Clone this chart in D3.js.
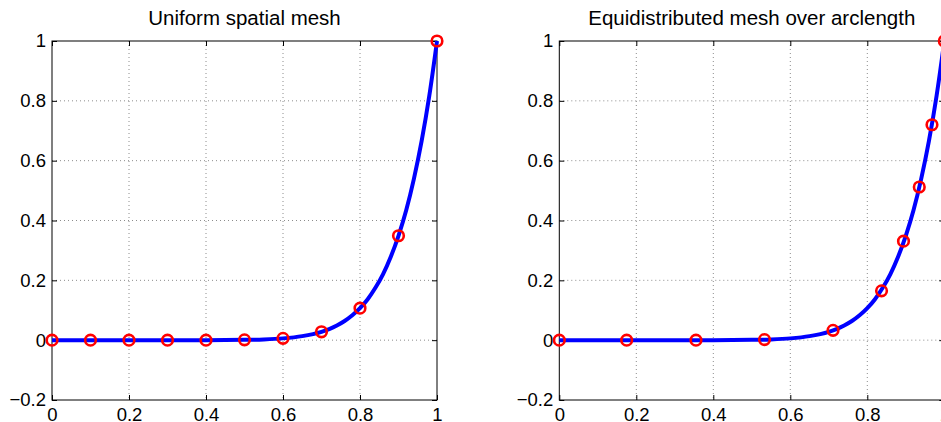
<!DOCTYPE html>
<html>
<head>
<meta charset="utf-8">
<script src="https://cdn.jsdelivr.net/npm/d3@7"></script>
<style>
  body { margin: 0; background: #fff; }
  svg { display: block; font-family: "Liberation Sans", Arial, sans-serif; }
</style>
</head>
<body>
<div id="svg"></div>
<script>
// data

// smooth solution curve (same in both panels)
const curveX = [0, 0.1, 0.2, 0.3, 0.4, 0.5, 0.55, 0.6, 0.65, 0.7, 0.72, 0.74, 0.76, 0.78, 0.8, 0.82, 0.84, 0.86, 0.88, 0.9, 0.92, 0.94, 0.96, 0.98, 1];
const curveY = [0, 0, 0, 0, 0.0001, 0.001, 0.0025, 0.006, 0.0135, 0.028, 0.037, 0.049, 0.064, 0.083, 0.107, 0.137, 0.175, 0.221, 0.279, 0.349, 0.434, 0.539, 0.665, 0.817, 1];

// uniform mesh points
const uniformX = [0, 0.1, 0.2, 0.3, 0.4, 0.5, 0.6, 0.7, 0.8, 0.9, 1];
const uniformY = [0, 0, 0, 0, 0.0001, 0.001, 0.006, 0.028, 0.107, 0.349, 1];

// equidistributed mesh points
const equiX = [0, 0.175, 0.355, 0.533, 0.711, 0.837, 0.894, 0.935, 0.968, 1];
const equiY = [0, 0, 0, 0.002, 0.033, 0.165, 0.331, 0.512, 0.72, 1];

const titles = ["Uniform spatial mesh", "Equidistributed mesh over arclength"];
const xTicks = [0, 0.2, 0.4, 0.6, 0.8, 1];
const yTicks = [-0.2, 0, 0.2, 0.4, 0.6, 0.8, 1];

// sizes
const width = 941;
const height = 422;
const panelW = 385;
const plotTop = 41;
const plotBottom = 400;
const lefts = [52, 559.3];

const svg = d3.select("#svg")
  .append("svg")
  .attr("width", width)
  .attr("height", height);

const y = d3.scaleLinear()
  .domain([-0.2, 1])
  .range([plotBottom, plotTop]);

const fmt = d => d < 0 ? "\u2212" + Math.abs(d) : String(d);

function drawPanel(i, markX, markY) {
  const x = d3.scaleLinear()
    .domain([0, 1])
    .range([lefts[i], lefts[i] + panelW]);

  const g = svg.append("g");

  // dotted grid
  g.append("g")
    .selectAll("line")
    .data(xTicks.slice(1, -1))
    .join("line")
    .attr("x1", d => x(d)).attr("x2", d => x(d))
    .attr("y1", plotTop).attr("y2", plotBottom)
    .attr("stroke", "#8c8c8c")
    .attr("stroke-dasharray", "1,3");
  g.append("g")
    .selectAll("line")
    .data(yTicks.slice(1, -1))
    .join("line")
    .attr("x1", x(0)).attr("x2", x(1))
    .attr("y1", d => y(d)).attr("y2", d => y(d))
    .attr("stroke", "#8c8c8c")
    .attr("stroke-dasharray", "1,3");

  // axes, ticks pointing inward like matlab
  g.append("g")
    .attr("transform", `translate(0,${plotBottom})`)
    .call(d3.axisBottom(x).tickValues(xTicks).tickFormat(fmt).tickSizeInner(-5).tickSizeOuter(0).tickPadding(8))
    .call(a => a.select(".domain").remove());
  g.append("g")
    .attr("transform", `translate(0,${plotTop})`)
    .call(d3.axisTop(x).tickValues(xTicks).tickFormat("").tickSizeInner(-5).tickSizeOuter(0))
    .call(a => a.select(".domain").remove());
  g.append("g")
    .attr("transform", `translate(${x(0)},0)`)
    .call(d3.axisLeft(y).tickValues(yTicks).tickFormat(fmt).tickSizeInner(-5).tickSizeOuter(0).tickPadding(6))
    .call(a => a.select(".domain").remove());
  g.append("g")
    .attr("transform", `translate(${x(1)},0)`)
    .call(d3.axisRight(y).tickValues(yTicks).tickFormat("").tickSizeInner(-5).tickSizeOuter(0))
    .call(a => a.select(".domain").remove());

  g.selectAll(".tick text")
    .attr("font-size", "18.5px")
    .attr("font-family", "Liberation Sans, Arial, sans-serif")
    .attr("fill", "#000");

  // box
  g.append("rect")
    .attr("x", x(0)).attr("y", plotTop)
    .attr("width", x(1) - x(0)).attr("height", plotBottom - plotTop)
    .attr("fill", "none")
    .attr("stroke", "#000")
    .attr("stroke-width", 1);

  // title
  g.append("text")
    .attr("x", (x(0) + x(1)) / 2)
    .attr("y", 25)
    .attr("text-anchor", "middle")
    .attr("font-size", "20.5px")
    .text(titles[i]);

  // the curve
  const line = d3.line()
    .x((d, j) => x(curveX[j]))
    .y(d => y(d))
    .curve(d3.curveMonotoneX);
  g.append("path")
    .datum(curveY)
    .attr("d", line)
    .attr("fill", "none")
    .attr("stroke", "#0000ff")
    .attr("stroke-width", 4);

  // mesh markers
  g.append("g")
    .selectAll("circle")
    .data(markY)
    .join("circle")
    .attr("cx", (d, j) => x(markX[j]))
    .attr("cy", d => y(d))
    .attr("r", 5.3)
    .attr("fill", "none")
    .attr("stroke", "#ff0000")
    .attr("stroke-width", 2.6);
}

drawPanel(0, uniformX, uniformY);
drawPanel(1, equiX, equiY);
</script>
</body>
</html>
